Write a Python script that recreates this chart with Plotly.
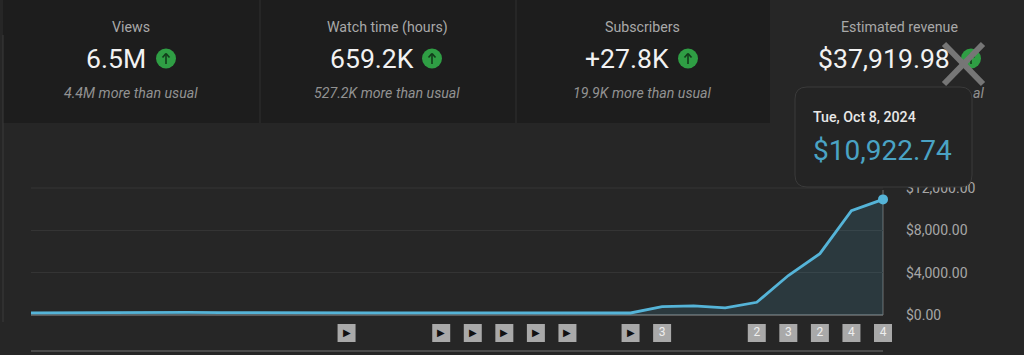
import plotly.graph_objects as go

dates = ["2024-09-%02d" % d for d in range(11, 31)] + ["2024-10-%02d" % d for d in range(1, 9)]
revenue = [210, 230, 250, 260, 260, 250, 230, 210, 200, 200, 200, 200, 200, 200, 200, 200,
           200, 200, 200, 190, 790, 860, 670, 1200, 3730, 5800, 9850, 10922.74]
event_dates = ["2024-09-21", "2024-09-24", "2024-09-25", "2024-09-26", "2024-09-27", "2024-09-28",
               "2024-09-30", "2024-10-01", "2024-10-04", "2024-10-05", "2024-10-06", "2024-10-07", "2024-10-08"]
event_labels = ["▶", "▶", "▶", "▶", "▶", "▶", "▶", "3", "2", "3", "2", "4", "4"]
y_ticks = [0, 4000, 8000, 12000]
y_labels = ["$0.00", "$4,000.00", "$8,000.00", "$12,000.00"]
card_titles = ["Views", "Watch time (hours)", "Subscribers", "Estimated revenue"]
card_values = ["6.5M", "659.2K", "+27.8K", "$37,919.98"]
card_notes = ["4.4M more than usual", "527.2K more than usual", "19.9K more than usual", "usual"]
tip_date = "Tue, Oct 8, 2024"
tip_value = "$10,922.74"

W, H, L, R, T, Z, B = 1024, 355, 31, 883, 188, 315, 351
px = lambda x: (x - L) / (R - L)
py = lambda y: (B - y) / (B - T)
FONT = "Roboto"

fig = go.Figure()
fig.add_trace(go.Scatter(x=dates, y=revenue, mode="lines", line=dict(color="#55b4d8", width=2.8),
                         fill="tozeroy", fillcolor="rgba(80,175,215,0.14)", hoverinfo="skip", showlegend=False,
                         cliponaxis=False))
fig.add_trace(go.Scatter(x=dates[-1:], y=revenue[-1:], mode="markers", cliponaxis=False, showlegend=False,
                         marker=dict(color="#55b4d8", size=10), hoverinfo="skip"))
fig.add_trace(go.Scatter(x=event_dates, y=[0.5] * len(event_dates), yaxis="y2", mode="markers+text", cliponaxis=False,
                         text=event_labels, textposition="middle center", showlegend=False, hoverinfo="skip",
                         textfont=dict(family=FONT, size=[10 if t == "▶" else 12 for t in event_labels],
                                       color=["#111111" if t == "▶" else "#eeeeee" for t in event_labels]),
                         marker=dict(symbol="square", size=18, color="#a9a9a9")))

shapes, annots = [], []
def rect(x0, y0, x1, y1, **kw):
    shapes.append(dict(type="rect", xref="paper", yref="paper", x0=px(x0), x1=px(x1), y0=py(y0), y1=py(y1),
                       layer="below", **kw))
def hline(x0, y0, x1, y1, color, width, layer="below"):
    shapes.append(dict(type="line", xref="paper", yref="paper", x0=px(x0), y0=py(y0), x1=px(x1), y1=py(y1),
                       line=dict(color=color, width=width), layer=layer))
def text(x, y, s, size, color, **kw):
    annots.append(dict(xref="paper", yref="paper", x=px(x), y=py(y), text=s, showarrow=False,
                       xanchor=kw.pop("xanchor", "center"), yanchor="middle",
                       font=dict(family=FONT, size=size, color=color, **kw)))

# cards
for x0, x1 in [(3, 259), (261, 515), (517, 770)]:
    rect(x0, -2, x1, 123, fillcolor="#1d1d1d", line_width=0)
cx = [131, 387, 642, 899]
value_x = [116, 372, 627, 884]
icon = [166, 432, 688, 971]
for i in range(4):
    text(cx[i], 27, card_titles[i], 14.2, "#a9a9a9")
    text(value_x[i], 58.5, card_values[i], 26.6, "#f2f2f2")
    shapes.append(dict(type="circle", xref="paper", yref="paper", x0=px(icon[i] - 10), x1=px(icon[i] + 10),
                       y0=py(68.5), y1=py(48.5), fillcolor="#2f9e44", line_width=0, layer="above"))
    # arrow glyph
    hline(icon[i], 64, icon[i], 54, "#123d1b", 1.6, "above")
    hline(icon[i] - 3.5, 57.5, icon[i], 53.5, "#123d1b", 1.6, "above")
    hline(icon[i] + 3.5, 57.5, icon[i], 53.5, "#123d1b", 1.6, "above")
for i in range(3):
    text(cx[i], 93, "<i>%s</i>" % card_notes[i], 14.2, "#929292")
text(978, 93, "<i>%s</i>" % card_notes[3][-2:], 14.2, "#929292")

# close cross
hline(944, 44, 983, 84, "#767676", 6, "above")
hline(983, 44, 944, 84, "#767676", 6, "above")

# tooltip
r = 12
x0, x1, y0, y1 = px(795), px(972), py(187), py(87)
rx, ry = r / (R - L), r / (B - T)
path = (f"M {x0+rx} {y0} L {x1-rx} {y0} Q {x1} {y0} {x1} {y0+ry} L {x1} {y1-ry} Q {x1} {y1} {x1-rx} {y1} "
        f"L {x0+rx} {y1} Q {x0} {y1} {x0} {y1-ry} L {x0} {y0+ry} Q {x0} {y0} {x0+rx} {y0} Z")
shapes.append(dict(type="path", xref="paper", yref="paper", path=path, fillcolor="#242424",
                   line=dict(color="#3a3a3a", width=1), layer="above"))
text(811, 117, tip_date, 14.2, "#e8e8e8", xanchor="left", weight=500)
text(811, 150, tip_value, 28, "#4aa3c4", xanchor="left")

# rules
hline(883, Z, 883, 190, "#6f6f6f", 1)
hline(L, Z, R, Z, "#6f6f6f", 1.5)
hline(L, 351, R, 351, "#4a4a4a", 2)
hline(L, 188, R, 188, "#343434", 1)
hline(3, 35, 3, 322, "#3a3a3a", 1)

d = (B - Z) / (B - T)
fig.update_layout(
    width=W, height=H, margin=dict(l=L, r=W - R, t=T, b=H - B, pad=0), autosize=False,
    paper_bgcolor="#262626", plot_bgcolor="rgba(0,0,0,0)", showlegend=False, hovermode=False,
    shapes=shapes, annotations=annots,
    xaxis=dict(type="date", range=[dates[0], dates[-1]], showgrid=False, zeroline=False, showticklabels=False,
               ticks="", anchor="y2", automargin=False),
    yaxis=dict(domain=[d, 1], range=[0, 12000], side="right", anchor="x", tickvals=y_ticks, ticktext=y_labels,
               gridcolor="#343434", gridwidth=1, zeroline=False, showline=False, ticks="", ticklabelstandoff=22,
               automargin=False, tickfont=dict(family=FONT, size=14, color="#a6a6a6")),
    yaxis2=dict(domain=[0, d], range=[0, 1], visible=False, anchor="x", automargin=False),
)
fig.write_html("out.html", config=dict(displayModeBar=False),
               post_script="document.body.style.margin='0';document.body.style.overflow='hidden';")
